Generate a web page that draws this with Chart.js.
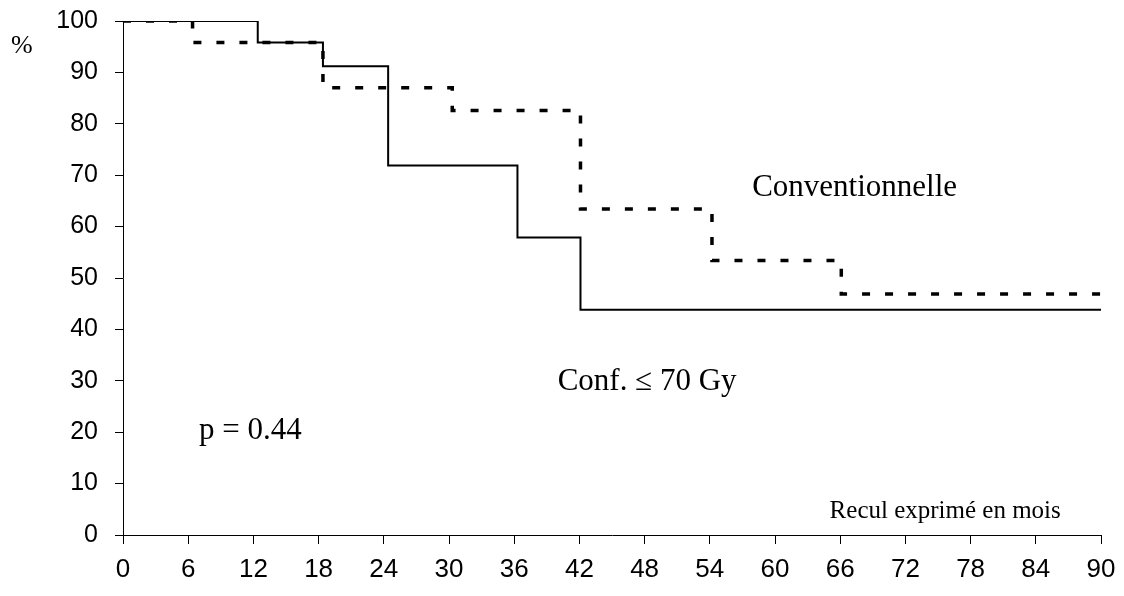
<!DOCTYPE html>
<html>
<head>
<meta charset="utf-8">
<script src="https://cdn.jsdelivr.net/npm/chart.js@4/dist/chart.umd.min.js"></script>
<style>
  html, body { margin: 0; padding: 0; background: #fff; }
  #wrap { width: 1124px; height: 596px; position: relative; }
</style>
</head>
<body>
<div id="wrap"><canvas id="km"></canvas></div>
<script>
// données (mois, % survie)
const confTimes = [0, 12.4, 18.4, 24.4, 36.3, 42.1, 90];
const confSurv = [100, 95.8, 91.2, 71.9, 57.9, 43.8, 43.8];
const convTimes = [0, 6.4, 18.4, 30.3, 42.1, 54.2, 66.1, 90];
const convSurv = [100, 95.8, 87.0, 82.6, 63.4, 53.4, 46.9, 46.9];
const xTicks = [0, 6, 12, 18, 24, 30, 36, 42, 48, 54, 60, 66, 72, 78, 84, 90];
const yTicks = [0, 10, 20, 30, 40, 50, 60, 70, 80, 90, 100];

const toPoints = (xs, ys) => xs.map((x, i) => ({ x: x, y: ys[i] }));

// textes posés sur la figure
const annotationPlugin = {
    id: 'annotations',
    afterDraw(chart) {
        const { ctx, scales } = chart;
        const x = scales.x, y = scales.y;
        ctx.save();
        ctx.fillStyle = '#000';
        ctx.textBaseline = 'middle';
        ctx.font = '31px "Liberation Serif", serif';
        ctx.textAlign = 'left';
        ctx.fillText('Conventionnelle', x.getPixelForValue(57.9), y.getPixelForValue(67.6));
        ctx.fillText('Conf. \u2264 70 Gy', x.getPixelForValue(40.0), y.getPixelForValue(29.8));
        ctx.fillText('p = 0.44', x.getPixelForValue(7.0), y.getPixelForValue(20.3));
        ctx.font = '25px "Liberation Serif", serif';
        ctx.textAlign = 'right';
        ctx.fillText('Recul exprim\u00e9 en mois', x.getPixelForValue(86.3), y.getPixelForValue(4.6));
        ctx.font = '26px "Liberation Serif", serif';
        ctx.textAlign = 'left';
        ctx.fillText('%', 11, 46);
        ctx.restore();
    }
};

new Chart(document.getElementById('km'), {
    type: 'line',
    data: {
        datasets: [{
            label: 'Conf. \u2264 70 Gy',
            data: toPoints(confTimes, confSurv),
            borderColor: '#000',
            borderWidth: 2,
            stepped: 'before',
            pointRadius: 0,
            fill: false
        }, {
            label: 'Conventionnelle',
            data: toPoints(convTimes, convSurv),
            borderColor: '#000',
            borderWidth: 3.5,
            borderDash: [8, 15],
            stepped: 'before',
            pointRadius: 0,
            fill: false
        }]
    },
    options: {
        responsive: true,
        maintainAspectRatio: false,
        animation: false,
        layout: { padding: { top: 21, right: 23, left: 0, bottom: 0 } },
        plugins: {
            legend: { display: false },
            tooltip: { enabled: false }
        },
        scales: {
            x: {
                type: 'linear',
                min: 0,
                max: 90,
                afterBuildTicks: s => { s.ticks = xTicks.map(v => ({ value: v })); },
                afterFit: s => { s.height = 61; s.paddingLeft = 0; s.paddingRight = 0; },
                grid: { drawOnChartArea: false, drawTicks: true, tickLength: 9, color: '#000' },
                border: { display: true, color: '#000', width: 1 },
                ticks: {
                    color: '#000',
                    padding: 10,
                    maxRotation: 0,
                    autoSkip: false,
                    font: { family: '"Liberation Sans", Arial, sans-serif', size: 26 }
                }
            },
            y: {
                min: 0,
                max: 100,
                afterBuildTicks: s => { s.ticks = yTicks.map(v => ({ value: v })); },
                afterFit: s => { s.width = 123; s.paddingTop = 0; s.paddingBottom = 0; },
                grid: { drawOnChartArea: false, drawTicks: true, tickLength: 8, color: '#000' },
                border: { display: true, color: '#000', width: 1 },
                ticks: {
                    color: '#000',
                    padding: 17,
                    font: { family: '"Liberation Sans", Arial, sans-serif', size: 25 }
                }
            }
        }
    },
    plugins: [annotationPlugin]
});
</script>
</body>
</html>
